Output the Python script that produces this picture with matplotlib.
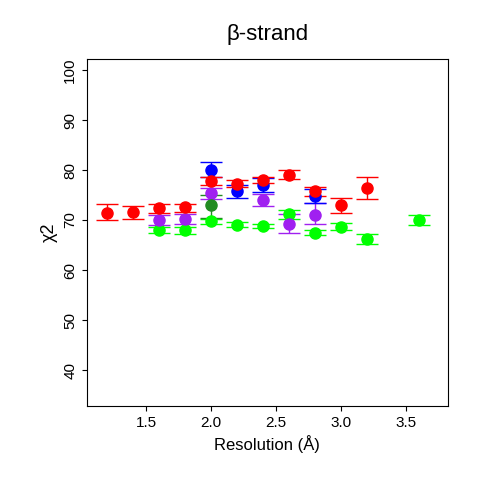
import matplotlib
matplotlib.use("Agg")
import matplotlib.pyplot as plt

plt.rcParams['font.family'] = ['Liberation Sans', 'DejaVu Sans']

# series: resolution, chi2, lower, upper
red_x = [1.2, 1.4, 1.6, 1.8, 2.0, 2.2, 2.4, 2.6, 2.8, 3.0, 3.2]
red_y = [71.5, 71.6, 72.4, 72.6, 77.8, 77.3, 78.1, 79.0, 75.8, 73.0, 76.4]
red_lo = [70.0, 70.3, 71.4, 71.6, 77.0, 76.6, 77.5, 78.2, 74.9, 71.4, 74.2]
red_hi = [73.2, 72.8, 73.2, 73.2, 78.6, 78.0, 78.7, 80.1, 76.7, 74.5, 78.7]

blue_x = [2.0, 2.2, 2.4, 2.8]
blue_y = [80.0, 75.8, 77.0, 74.8]
blue_lo = [78.7, 74.5, 75.6, 73.4]
blue_hi = [81.6, 77.0, 78.4, 76.2]

purple_x = [1.6, 1.8, 2.0, 2.4, 2.6, 2.8]
purple_y = [70.0, 70.2, 75.5, 74.1, 69.3, 71.1]
purple_lo = [69.0, 69.2, 74.3, 72.8, 67.5, 69.3]
purple_hi = [71.0, 71.3, 76.4, 75.2, 71.2, 73.4]

dg_x = [2.0]
dg_y = [73.0]
dg_lo = [70.4]
dg_hi = [75.0]

green_x = [1.6, 1.8, 2.0, 2.2, 2.4, 2.6, 2.8, 3.0, 3.2, 3.6]
green_y = [68.1, 68.0, 69.8, 69.1, 68.9, 71.2, 67.5, 68.7, 66.2, 70.0]
green_lo = [67.5, 67.3, 69.3, 68.6, 68.5, 70.2, 67.0, 68.0, 65.3, 69.0]
green_hi = [68.7, 68.6, 70.3, 69.6, 69.3, 72.1, 68.0, 69.5, 67.2, 71.0]

fig, ax = plt.subplots(figsize=(4.8, 4.8), dpi=100)
fig.subplots_adjust(left=0.181, right=0.933, bottom=0.154, top=0.877)

series = [
    (green_x, green_y, green_lo, green_hi, '#00ff00'),
    (purple_x, purple_y, purple_lo, purple_hi, '#a020f0'),
    (dg_x, dg_y, dg_lo, dg_hi, '#228b22'),
    (blue_x, blue_y, blue_lo, blue_hi, '#0000ff'),
    (red_x, red_y, red_lo, red_hi, '#ff0000'),
]
for x, y, lo, hi, c in series:
    err = [[yy - l for yy, l in zip(y, lo)], [h - yy for yy, h in zip(y, hi)]]
    ax.errorbar(x, y, yerr=err, fmt='o', color=c, ms=8, capsize=8,
                elinewidth=1, capthick=1)

ax.set_xlim(1.046, 3.82)
ax.set_ylim(32.8, 102.2)
ax.set_xticks([1.5, 2.0, 2.5, 3.0, 3.5])
ax.set_yticks([40, 50, 60, 70, 80, 90, 100])
for lab in ax.get_yticklabels():
    lab.set_rotation(90)
    lab.set_va('center')
ax.tick_params(labelsize=11)
ax.set_title('β-strand', fontsize=16, pad=14)
ax.set_xlabel('Resolution (Å)', fontsize=12)
ax.set_ylabel('χ2', fontsize=13)

plt.savefig('out.png')
